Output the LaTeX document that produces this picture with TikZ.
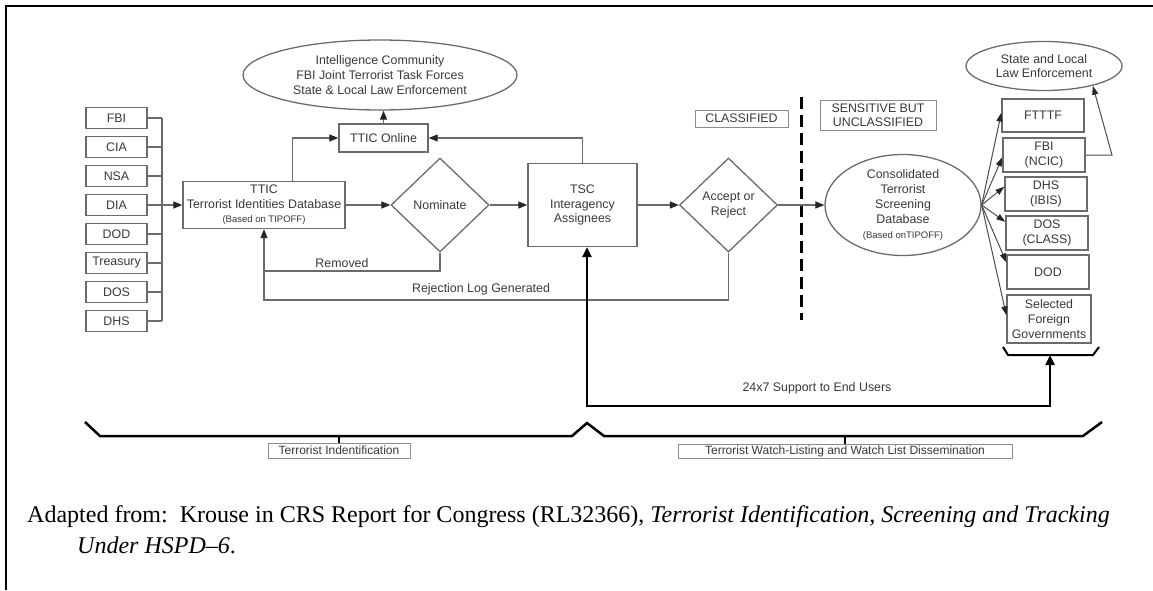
\documentclass[tikz,border=0pt]{standalone}
\usepackage{fontspec}
\setmainfont{Liberation Serif}
\setsansfont{Liberation Sans}
\usetikzlibrary{shapes.geometric,arrows.meta}

\definecolor{inkgray}{gray}{0.22}
\definecolor{linegray}{gray}{0.42}

\tikzset{
  diagfont/.style={font=\sffamily\fontsize{12.4}{14.6}\selectfont, text=inkgray},
  agencybox/.style={draw=linegray, line width=1.3pt, diagfont, inner sep=0pt, align=center},
  labelbox/.style={draw=black!45, line width=0.9pt, font=\sffamily\fontsize{12}{14}\selectfont, text=inkgray, inner sep=0pt},
  decision/.style={diamond, draw=linegray, line width=1.3pt, diagfont, inner sep=0pt, align=center, minimum width=98pt, minimum height=94pt},
  blob/.style={ellipse, draw=linegray, line width=1.3pt, diagfont, inner sep=0pt, align=center},
  link/.style={draw=linegray, line width=1.2pt},
  flow/.style={link, -{Triangle[length=9pt,width=7pt,color=black!85]}},
  fanflow/.style={draw=black!70, line width=1pt, -{Triangle[length=9pt,width=6pt,color=black!85]}},
  support/.style={draw=black, line width=2.3pt, {Triangle[length=10pt,width=9pt]}-{Triangle[length=10pt,width=9pt]}},
  brace/.style={draw=black, line width=2.5pt, line join=miter},
  note/.style={anchor=west, inner sep=0pt, font=\fontsize{24}{28}\selectfont}
}

\begin{document}
\begin{tikzpicture}[x=1pt,y=-1pt]
            \useasboundingbox (0,0) rectangle (1153,590);
            
            % Drawing the frame (top and left)
            \draw [line width=2.5pt] (6,590) -- (6,6) -- (1153,6);%
            
            % Marking the agencies that feed TTIC
            \node [agencybox, minimum width=61pt, minimum height=21pt] (fbi) at (116.5,118) {FBI};%
            \node [agencybox, minimum width=61pt, minimum height=21pt] (cia) at (116.5,147) {CIA};%
            \node [agencybox, minimum width=61pt, minimum height=21pt] (nsa) at (116.5,176) {NSA};%
            \node [agencybox, minimum width=61pt, minimum height=21pt] (dia) at (116.5,205) {DIA};%
            \node [agencybox, minimum width=61pt, minimum height=21pt] (dod) at (116.5,234) {DOD};%
            \node [agencybox, minimum width=61pt, minimum height=21pt] (treasury) at (116.5,263) {Treasury};%
            \node [agencybox, minimum width=61pt, minimum height=21pt] (dos) at (116.5,292) {DOS};%
            \node [agencybox, minimum width=61pt, minimum height=21pt] (dhs) at (116.5,321) {DHS};%
            
            % Drawing the collecting bus
            \coordinate (bustop) at (162,118);%
            \coordinate (busbot) at (162,321);%
            \coordinate (busout) at (162,205);%
            \draw [link] (bustop) -- (busbot);%
            \draw [link] (fbi.east) -- (fbi.east -| bustop);%
            \draw [link] (cia.east) -- (cia.east -| bustop);%
            \draw [link] (nsa.east) -- (nsa.east -| bustop);%
            \draw [link] (dia.east) -- (dia.east -| bustop);%
            \draw [link] (dod.east) -- (dod.east -| bustop);%
            \draw [link] (treasury.east) -- (treasury.east -| bustop);%
            \draw [link] (dos.east) -- (dos.east -| bustop);%
            \draw [link] (dhs.east) -- (dhs.east -| bustop);%
            
            % Marking TTIC, TTIC Online and the community ellipse
            \node [agencybox, minimum width=162pt, minimum height=47pt] (ttic) at (264,205) {TTIC\\Terrorist Identities Database\\{\fontsize{9.5}{11}\selectfont (Based on TIPOFF)}};%
            \node [agencybox, minimum width=89pt, minimum height=28pt] (online) at (383.5,138) {TTIC Online};%
            \node [blob, minimum width=274pt, minimum height=70pt] (intel) at (380,75) {Intelligence Community\\FBI Joint Terrorist Task Forces\\State \& Local Law Enforcement};%
            
            % Marking the decisions and TSC
            \node [decision] (nominate) at (440,205) {Nominate};%
            \node [agencybox, minimum width=109pt, minimum height=83pt] (tsc) at (582.5,205) {TSC\\Interagency\\Assignees};%
            \node [decision] (accept) at (728.5,205) {Accept or\\Reject};%
            
            % Drawing the flow along the middle row
            \draw [flow] (busout) -- (busout -| ttic.west);%
            \draw [flow] (ttic.east) -- (nominate.west);%
            \draw [flow] (nominate.east) -- (tsc.west);%
            \draw [flow] (tsc.east) -- (accept.west);%
            \draw [flow] ([xshift=28.5pt]ttic.north) |- (online.west);%
            \draw [flow] (online.north) -- (online.north |- intel.south);%
            \draw [flow] (tsc.north) |- (online.east);%
            
            % Drawing the feedback lines
            \coordinate (removed) at (264,271);%
            \coordinate (rejected) at (264,300);%
            \draw [flow] (nominate.south) |- (removed) -- (ttic.south);%
            \draw [link] (accept.south) |- (rejected) -- (removed);%
            \node [diagfont] (removedtext) at (342,263) {Removed};%
            \node [diagfont] (rejectedtext) at (481,289) {Rejection Log Generated};%
            
            % Marking the classification split
            \node [labelbox, minimum width=93pt, minimum height=17pt, font=\sffamily\fontsize{12.4}{14}\selectfont] (classified) at (741.5,118.5) {CLASSIFIED};%
            \node [labelbox, minimum width=116pt, minimum height=30pt, align=center, font=\sffamily\fontsize{12.4}{14.2}\selectfont] (sbu) at (878,115) {SENSITIVE BUT\\UNCLASSIFIED};%
            \draw [line width=3pt, dash pattern=on 12pt off 6pt] (801,97) -- (801,320);%
            
            % Marking the screening database and its users
            \node [blob, minimum width=156pt, minimum height=101pt, font=\sffamily\fontsize{12.4}{15}\selectfont] (cts) at (903,205) {Consolidated\\Terrorist\\Screening\\Database\\{\fontsize{9.5}{11}\selectfont (Based onTIPOFF)}};%
            \node [blob, minimum width=156pt, minimum height=49pt] (state) at (1044,66) {State and Local\\Law Enforcement};%
            \node [agencybox, minimum width=82pt, minimum height=33pt] (ftttf) at (1043,115.5) {FTTTF};%
            \node [agencybox, minimum width=82pt, minimum height=34pt] (ncic) at (1044,155) {FBI\\(NCIC)};%
            \node [agencybox, minimum width=82pt, minimum height=34pt] (ibis) at (1046,194) {DHS\\(IBIS)};%
            \node [agencybox, minimum width=82pt, minimum height=34pt] (class) at (1047,233) {DOS\\(CLASS)};%
            \node [agencybox, minimum width=82pt, minimum height=34pt] (usdod) at (1048,272) {DOD};%
            \node [agencybox, minimum width=84pt, minimum height=48pt] (foreign) at (1049,319) {Selected\\Foreign\\Governments};%
            
            % Drawing the dissemination fan
            \draw [flow] (accept.east) -- (cts.west);%
            \draw [fanflow] (cts.east) -- (ftttf.176);%
            \draw [fanflow] (cts.east) -- (ncic.183);%
            \draw [fanflow] (cts.east) -- (ibis.170);%
            \draw [fanflow] (cts.east) -- (class.165);%
            \draw [fanflow] (cts.east) -- (usdod.167);%
            \draw [fanflow] (cts.east) -- (foreign.175);%
            \coordinate (ncicturn) at (1112,155);%
            \draw [fanflow] (ncic.east) -- (ncicturn) -- (state.-22);%
            
            % Drawing the end user support loop
            \coordinate (users) at (1050,355);%
            \coordinate (supportcorner) at (587,406);%
            \draw [brace, line width=2pt] (1003,347) -- (1008,355) -- (1093,355) -- (1099,347);%
            \draw [support] ([xshift=4.5pt]tsc.south) -- (supportcorner) -| (users);%
            \node [diagfont] (supporttext) at (817,388) {24x7 Support to End Users};%
            
            % Drawing the phase braces
            \draw [brace] (85,422) -- (100,436) -- (572,436) -- (587,423) -- (604,436) -- (1083,436) -- (1102,422);%
            \node [labelbox, minimum width=142pt, minimum height=15pt] (identification) at (339,450.5) {Terrorist Indentification};%
            \node [labelbox, minimum width=334pt, minimum height=14pt] (watchlisting) at (845,451) {Terrorist Watch-Listing and Watch List Dissemination};%
            \draw [brace] (identification.north |- 0,436) -- (identification.north);%
            \draw [brace] (watchlisting.north |- 0,436) -- (watchlisting.north);%
            
            % Writing the source note
            \node [note] (source) at (27,517) {Adapted from:\ \ Krouse in CRS Report for Congress (RL32366), \textit{Terrorist Identification, Screening and Tracking}};%
            \node [note] (sourcemore) at (77,545) {\textit{Under HSPD–6}.};%
        \end{tikzpicture}
\end{document}
